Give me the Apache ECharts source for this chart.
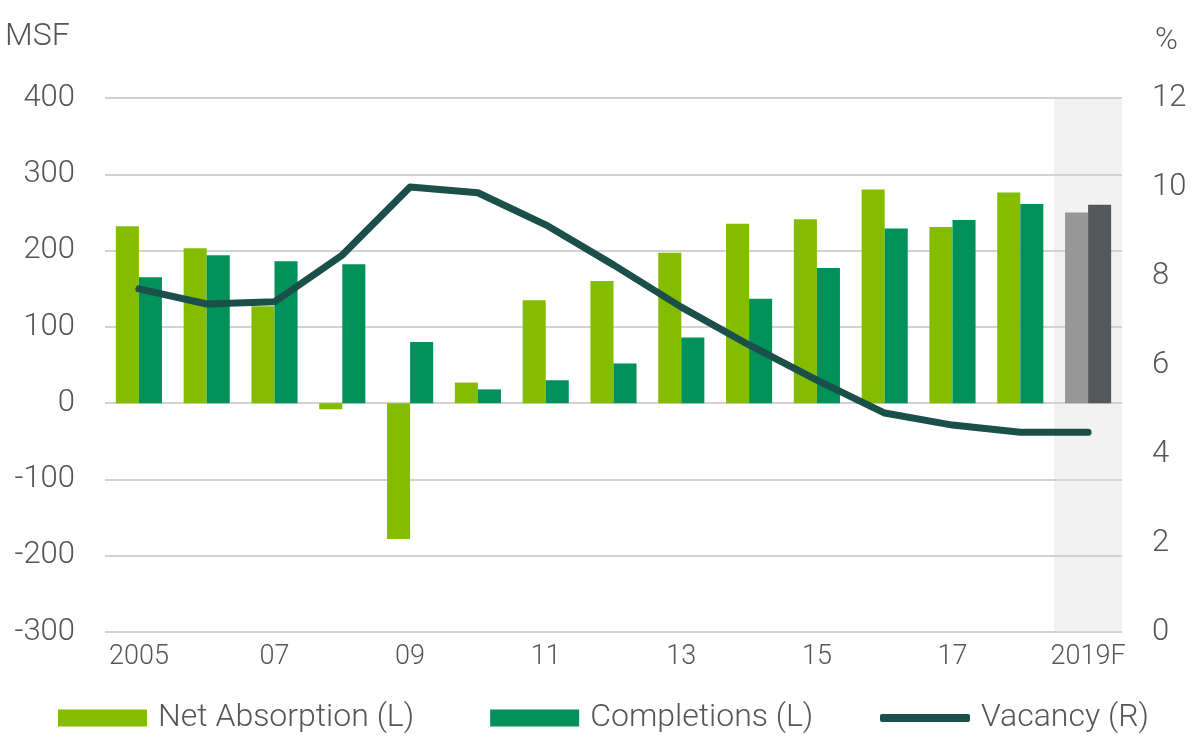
<!DOCTYPE html>
<html>
<head>
<meta charset="utf-8">
<script src="https://cdn.jsdelivr.net/npm/echarts@6/dist/echarts.min.js"></script>
<style>html,body{margin:0;padding:0;background:#fff}#c{width:1200px;height:750px}</style>
</head>
<body>
<div id="c"></div>
<script>
const categories = ["2005","06","07","08","09","10","11","12","13","14","15","16","17","18","2019F"];
const netAbsorption = [232, 203, 127, -8, -178, 27, 135, 160, 197, 235, 241, 280, 231, 276, 250];
const completions = [165, 194, 186, 182, 80, 18, 30, 52, 86, 137, 177, 229, 240, 261, 260];
const vacancy = [7.71, 7.37, 7.42, 8.47, 10.0, 9.87, 9.15, 8.25, 7.3, 6.45, 5.66, 4.92, 4.65, 4.49, 4.49];
const forecastIndex = 14;
const shade = categories.map((c, i) => i === forecastIndex ? 1 : null);

const FONT = 'Roboto';
const TXT = '#555659';
const chart = echarts.init(document.getElementById('c'), null, {renderer: 'canvas'});

const naData = netAbsorption.map((v, i) => i === forecastIndex ? {value: v, itemStyle: {color: '#979797'}} : v);
const compData = completions.map((v, i) => i === forecastIndex ? {value: v, itemStyle: {color: '#55575b'}} : v);

chart.setOption({
  animation: false,
  textStyle: {fontFamily: FONT, fontWeight: 300},
  grid: {left: 105, right: 78, top: 98, bottom: 118, containLabel: false},
  graphic: [
    {type: 'text', left: 5, top: 21, style: {text: 'MSF', fontSize: 32, fontFamily: FONT, fontWeight: 300, fill: TXT}},
    {type: 'text', left: 1155, top: 26, style: {text: '%', fontSize: 31, fontFamily: FONT, fontWeight: 300, fill: TXT}}
  ],
  legend: [
    {
      data: ['Net Absorption (L)', 'Completions (L)'],
      left: 58, top: 702, padding: 0, itemWidth: 89, itemHeight: 17, itemGap: 76, icon: 'rect',
      textStyle: {fontSize: 32, fontFamily: FONT, fontWeight: 300, color: TXT, padding: [0, 0, 0, 6]}
    },
    {
      data: ['Vacancy (R)'],
      left: 880, top: 702, padding: 0, itemWidth: 90, itemHeight: 8, icon: 'roundRect',
      textStyle: {fontSize: 32, fontFamily: FONT, fontWeight: 300, color: TXT, padding: [0, 0, 0, 6]}
    }
  ],
  xAxis: [
    {
      type: 'category', data: categories,
      axisLine: {show: false}, axisTick: {show: false},
      axisLabel: {interval: 1, fontSize: 27, color: TXT, fontFamily: FONT, fontWeight: 300, margin: 12}
    },
    {
      type: 'category', data: categories, show: false
    }
  ],
  yAxis: [
    {
      type: 'value', min: -300, max: 400, interval: 100,
      axisLine: {show: false}, axisTick: {show: false},
      axisLabel: {fontSize: 31, color: TXT, fontFamily: FONT, fontWeight: 300, margin: 30},
      splitLine: {lineStyle: {color: '#d2d2d2', width: 2}}
    },
    {
      type: 'value', min: 0, max: 12, interval: 2, position: 'right',
      axisLine: {show: false}, axisTick: {show: false},
      axisLabel: {fontSize: 31, color: TXT, fontFamily: FONT, fontWeight: 300, margin: 30},
      splitLine: {show: false}
    },
    {
      type: 'value', min: 0, max: 1, show: false
    }
  ],
  series: [
    {
      name: 'Forecast', type: 'bar', xAxisIndex: 1, yAxisIndex: 2, data: shade,
      barWidth: '100%', itemStyle: {color: '#f2f2f2'}, silent: true, z: -1
    },
    {
      name: 'Net Absorption (L)', type: 'bar', data: naData,
      itemStyle: {color: '#84bd00'}, barGap: '0%', barCategoryGap: '32%'
    },
    {
      name: 'Completions (L)', type: 'bar', data: compData,
      itemStyle: {color: '#00915a'}, barGap: '0%', barCategoryGap: '32%'
    },
    {
      name: 'Vacancy (R)', type: 'line', yAxisIndex: 1, data: vacancy,
      showSymbol: false, symbol: 'none', z: 5,
      lineStyle: {color: '#1b4f49', width: 7, cap: 'round', join: 'round'},
      itemStyle: {color: '#1b4f49'}
    }
  ]
});
</script>
</body>
</html>
